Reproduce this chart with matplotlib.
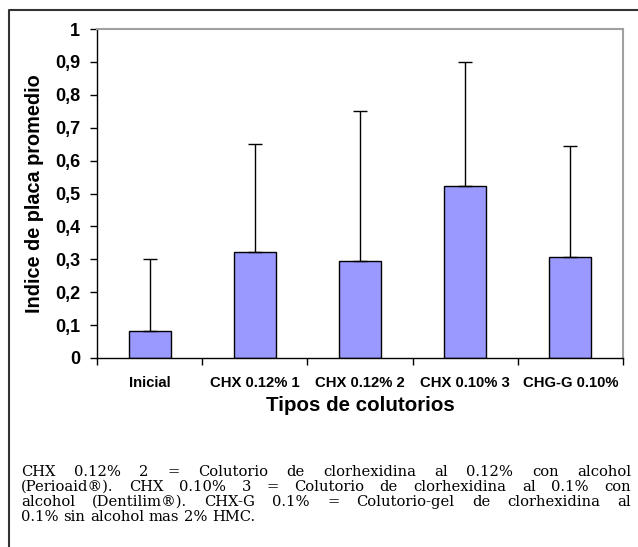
import numpy as np
import matplotlib
matplotlib.use("Agg")
import matplotlib.pyplot as plt
from matplotlib.lines import Line2D

# -----------------------------
# data
# -----------------------------
categorias = ["Inicial", "CHX 0.12% 1", "CHX 0.12% 2", "CHX 0.10% 3", "CHG-G 0.10%"]
medias = [0.082, 0.321, 0.294, 0.523, 0.307]
desv = [0.218, 0.328, 0.458, 0.377, 0.338]
yticks = [0, 0.1, 0.2, 0.3, 0.4, 0.5, 0.6, 0.7, 0.8, 0.9, 1]
ytick_labels = ["0", "0,1", "0,2", "0,3", "0,4", "0,5", "0,6", "0,7", "0,8", "0,9", "1"]
nota = [
    "CHX 0.12% 2 = Colutorio de clorhexidina al 0.12% con alcohol",
    "(Perioaid®). CHX 0.10% 3 = Colutorio de clorhexidina al 0.1% con",
    "alcohol (Dentilim®). CHX-G 0.1% = Colutorio-gel de clorhexidina al",
    "0.1% sin alcohol mas 2% HMC.",
]

W, H = 638, 547
plt.rcParams["font.family"] = ["Liberation Sans", "DejaVu Sans"]

fig = plt.figure(figsize=(W / 100, H / 100), dpi=100)
ax = fig.add_axes([97 / W, 1 - 358 / H, (623 - 97) / W, (358 - 29) / H])

x = np.arange(len(categorias))
ax.bar(x, medias, width=0.4, color="#9999ff", edgecolor="black", linewidth=1, zorder=2)
ax.errorbar(x, medias, yerr=[np.zeros(len(desv)), desv], fmt="none",
            ecolor="black", elinewidth=1, capsize=5, capthick=1, zorder=3)

ax.set_xlim(-0.5, len(categorias) - 0.5)
ax.set_ylim(0, 1)
ax.set_yticks(yticks)
ax.set_yticklabels(ytick_labels, fontsize=13, fontweight="bold")
ax.set_xticks(x)
ax.set_xticklabels(categorias, fontsize=10.7, fontweight="bold")
ax.set_xticks(np.arange(-0.5, len(categorias), 1), minor=True)
ax.tick_params(axis="x", which="major", length=0, pad=13)
ax.tick_params(axis="x", which="minor", length=5, width=1, direction="out")
ax.tick_params(axis="y", length=5, width=1, direction="out", pad=7)

for s in ["top", "right"]:
    ax.spines[s].set_color("#a0a0a0")
    ax.spines[s].set_linewidth(1.5)
for s in ["left", "bottom"]:
    ax.spines[s].set_color("black")
    ax.spines[s].set_linewidth(1)

ax.set_ylabel("Indice de placa promedio", fontsize=14.3, fontweight="bold", labelpad=8)
ax.set_xlabel("Tipos de colutorios", fontsize=14.8, fontweight="bold", labelpad=4)

# outer frame (left and top edges only)
fig.add_artist(Line2D([9 / W, 9 / W, 1], [0, 1 - 10 / H, 1 - 10 / H],
                      transform=fig.transFigure, color="#333333", linewidth=1.5))

# justified footnote, word by word on a common baseline
fs = 10.6
renderer = fig.canvas.get_renderer()
left_px, right_px = 21, 631
base_px = [476, 491, 506, 521]
for i, linea in enumerate(nota):
    words = linea.split(" ")
    texts = [fig.text(0, 1 - base_px[i] / H, w, family="DejaVu Serif", fontsize=fs,
                      va="baseline", ha="left") for w in words]
    widths = [t.get_window_extent(renderer).width for t in texts]
    if i < len(nota) - 1:
        gap = (right_px - left_px - sum(widths)) / (len(words) - 1)
    else:
        gap = renderer.points_to_pixels(fs) * 0.32
    xp = left_px
    for t, wd in zip(texts, widths):
        t.set_x(xp / W)
        xp += wd + gap

fig.savefig("out.png", dpi=100)
